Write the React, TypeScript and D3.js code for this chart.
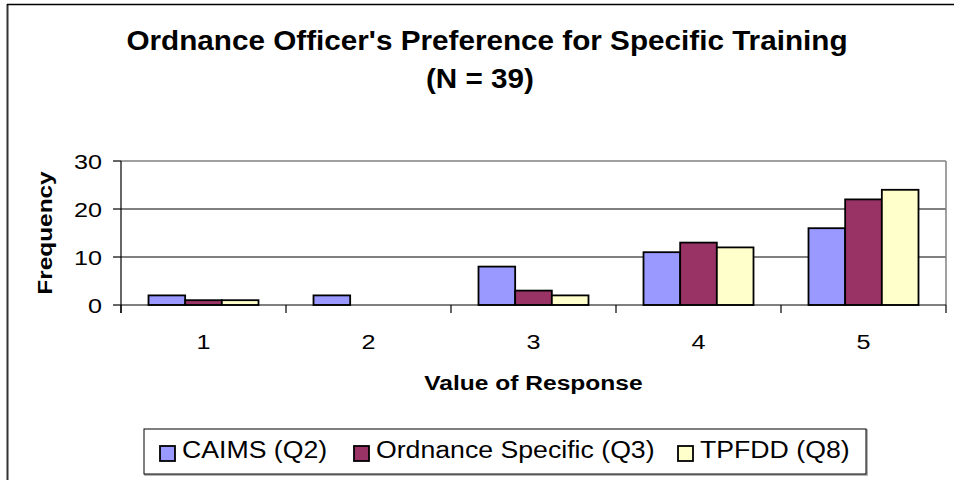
import React from 'react';
import { scaleBand, scaleLinear } from 'd3';

// data
const categories = ['1', '2', '3', '4', '5'];
const seriesNames = ['CAIMS (Q2)', 'Ordnance Specific (Q3)', 'TPFDD (Q8)'];
const caims = [2, 2, 8, 11, 16];
const ordnance = [1, 0, 3, 13, 22];
const tpfdd = [1, 0, 2, 12, 24];
const yTicks = [0, 10, 20, 30];

const seriesValues = [caims, ordnance, tpfdd];
const colors = ['#9999FF', '#993366', '#FFFFCC'];

const W = 954;
const H = 480;
const plot = { left: 121, right: 946, top: 161, bottom: 305 };
const FONT = '"Liberation Sans", Arial, sans-serif';

// legend layout (x of each swatch)
const legendX = [160, 354, 678];

const App: React.FC = () => {
  const x = scaleBand<string>()
    .domain(categories)
    .range([plot.left, plot.right])
    .padding(0);

  const xs = scaleBand<string>()
    .domain(seriesNames)
    .range([0, x.bandwidth()])
    .paddingInner(0)
    .paddingOuter(0.75);

  const y = scaleLinear().domain([0, 30]).range([plot.bottom, plot.top]);

  const ticksX = [...categories.map(c => x(c) || 0), plot.right];

  return (
    <>
      <style>{'body{margin:0;background:#fff}'}</style>
      <svg width={W} height={H} style={{ display: 'block', fontFamily: FONT }}>
        <rect width={W} height={H} fill="#fff" />
        {/* chart border */}
        <line x1={7.5} y1={4} x2={7.5} y2={H} stroke="#333" strokeWidth={2} />
        <line x1={7} y1={4.5} x2={W} y2={4.5} stroke="#000" strokeWidth={1.5} />

        {/* title */}
        <g fontWeight="bold" fontSize={28} textAnchor="middle" fill="#000">
          <text transform={`translate(487,50) scale(1.06,1)`}>
            Ordnance Officer's Preference for Specific Training
          </text>
          <text transform={`translate(480,88) scale(1.06,1)`}>(N = 39)</text>
        </g>

        {/* gridlines */}
        {yTicks.filter(t => t > 0 && t < 30).map(t => (
          <line key={t} x1={plot.left} x2={plot.right} y1={y(t)} y2={y(t)} stroke="#000" strokeWidth={1} />
        ))}
        {/* plot area border top/right */}
        <line x1={plot.left} x2={plot.right} y1={y(30)} y2={y(30)} stroke="#808080" strokeWidth={1.5} />
        <line x1={plot.right} x2={plot.right} y1={y(30)} y2={plot.bottom} stroke="#808080" strokeWidth={1.5} />

        {/* bars */}
        {categories.map((c, i) => (
          <g key={c} transform={`translate(${x(c)},0)`}>
            {seriesNames.map((s, k) => {
              const v = seriesValues[k][i];
              if (v === 0) return null;
              return (
                <rect
                  key={s}
                  x={xs(s)}
                  y={y(v)}
                  width={xs.bandwidth()}
                  height={y(0) - y(v)}
                  fill={colors[k]}
                  stroke="#000"
                  strokeWidth={1.8}
                />
              );
            })}
          </g>
        ))}

        {/* axes */}
        <line x1={plot.left} x2={plot.left} y1={y(30)} y2={plot.bottom + 8} stroke="#000" strokeWidth={1.2} />
        <line x1={plot.left} x2={plot.right} y1={plot.bottom} y2={plot.bottom} stroke="#000" strokeWidth={1.2} />
        {yTicks.map(t => (
          <g key={t}>
            <line x1={plot.left - 8} x2={plot.left} y1={y(t)} y2={y(t)} stroke="#000" strokeWidth={1.2} />
            <text
              transform={`translate(102,${y(t)}) scale(1.2,1)`}
              dy="0.36em"
              textAnchor="end"
              fontSize={21}
            >
              {t}
            </text>
          </g>
        ))}
        {ticksX.map((tx, i) => (
          <line key={i} x1={tx} x2={tx} y1={plot.bottom} y2={plot.bottom + 8} stroke="#000" strokeWidth={1.2} />
        ))}
        {categories.map(c => (
          <text
            key={c}
            transform={`translate(${(x(c) || 0) + x.bandwidth() / 2},349) scale(1.2,1)`}
            textAnchor="middle"
            fontSize={21}
          >
            {c}
          </text>
        ))}

        {/* axis titles */}
        <text
          transform={`translate(${(plot.left + plot.right) / 2},390) scale(1.17,1)`}
          textAnchor="middle"
          fontSize={21}
          fontWeight="bold"
        >
          Value of Response
        </text>
        <text
          transform={`translate(52,${(plot.top + plot.bottom) / 2}) rotate(-90) scale(1.22,1)`}
          textAnchor="middle"
          fontSize={20}
          fontWeight="bold"
        >
          Frequency
        </text>

        {/* legend */}
        <rect x={145} y={430} width={722} height={45} fill="none" stroke="#999" strokeWidth={1.5} />
        <rect x={144} y={429} width={722} height={45} fill="#fff" stroke="#000" strokeWidth={1} />
        {seriesNames.map((s, k) => (
          <g key={s}>
            <rect x={legendX[k]} y={446} width={15} height={15} fill={colors[k]} stroke="#000" strokeWidth={1.8} />
            <text
              transform={`translate(${legendX[k] + 22},457.5) scale(1.16,1)`}
              fontSize={23}
            >
              {s}
            </text>
          </g>
        ))}
      </svg>
    </>
  );
};

export default App;
